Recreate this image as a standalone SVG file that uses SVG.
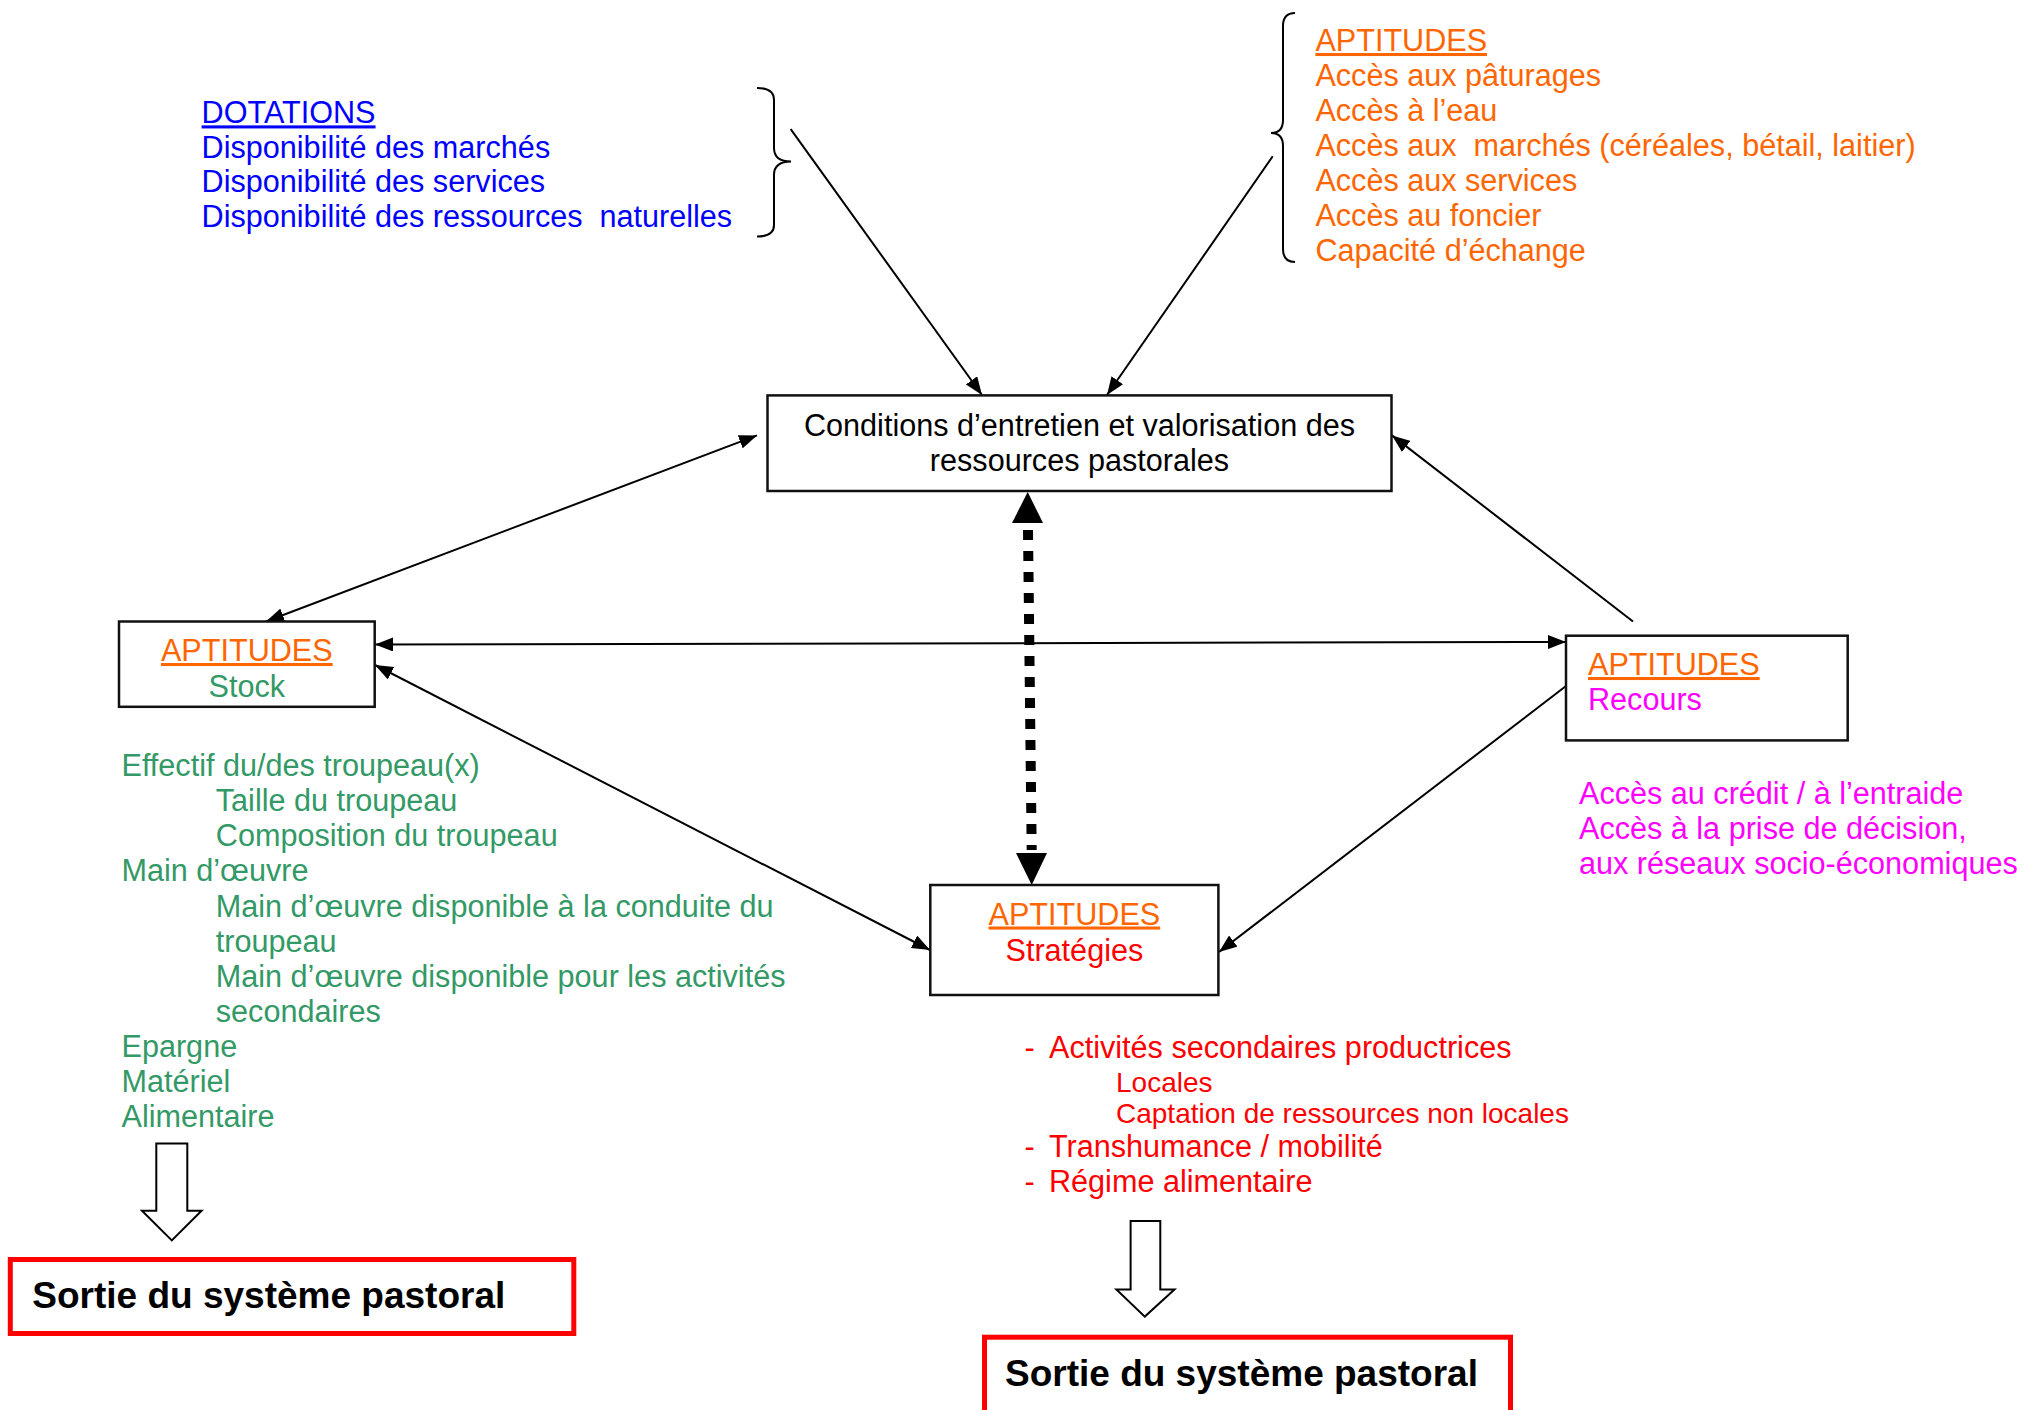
<svg xmlns="http://www.w3.org/2000/svg" width="2026" height="1410" viewBox="0 0 2026 1410">
<style>
text{font-family:"Liberation Sans",Arial,sans-serif;font-size:30.6px}
.u{text-decoration:underline}
.blue{fill:#0000FF}
.or{fill:#FF6600}
.gr{fill:#339966}
.mg{fill:#FF00FF}
.rd{fill:#FF0000}
.bk{fill:#000}
.sm{font-size:28px}
.bold{font-weight:bold;font-size:37px;fill:#000}
.box{fill:#fff;stroke:#111;stroke-width:2.5}
.sbox{fill:#fff;stroke:#FF0000;stroke-width:5}
.ln{stroke:#000;stroke-width:2;fill:none}
.brace{stroke:#000;stroke-width:2;fill:none}
.hollow{fill:#fff;stroke:#000;stroke-width:2;stroke-linejoin:miter}
</style>
<defs>
<marker id="ah" markerUnits="userSpaceOnUse" markerWidth="18" markerHeight="14" refX="18" refY="7" orient="auto-start-reverse" viewBox="0 0 18 14">
<path d="M0,0 L18,7 L0,14 z" fill="#000"/>
</marker>
</defs>
<rect width="2026" height="1410" fill="#fff"/>

<g id="connectors">
<line class="ln" x1="790.7" y1="129.2" x2="982" y2="395" marker-end="url(#ah)"/>
<line class="ln" x1="1272.7" y1="156.3" x2="1107" y2="395" marker-end="url(#ah)"/>
<line class="ln" x1="266" y1="621.5" x2="757" y2="435.4" marker-start="url(#ah)" marker-end="url(#ah)"/>
<line class="ln" x1="375" y1="644.5" x2="1566" y2="642" marker-start="url(#ah)" marker-end="url(#ah)"/>
<line class="ln" x1="375" y1="665" x2="930" y2="950" marker-start="url(#ah)" marker-end="url(#ah)"/>
<line class="ln" x1="1633" y1="621.5" x2="1392" y2="435.4" marker-end="url(#ah)"/>
<line class="ln" x1="1566" y1="686" x2="1219" y2="952" marker-end="url(#ah)"/>
<line x1="1028" y1="530" x2="1031.7" y2="850" stroke="#000" stroke-width="10" stroke-dasharray="10 11"/>
<polygon points="1027.7,492 1043,523 1012,523" fill="#000"/>
<polygon points="1031.7,885 1047,853 1016,853" fill="#000"/>
</g>

<g id="dotations">
<text class="blue u" x="201.6" y="123.4">DOTATIONS</text>
<text class="blue" x="201.6" y="157.5">Disponibilité des marchés</text>
<text class="blue" x="201.6" y="192">Disponibilité des services</text>
<text class="blue" x="201.6" y="226.8" xml:space="preserve">Disponibilité des ressources  naturelles</text>
<path class="brace" d="M757,88 Q774,88 774,100 L774,148 Q774,161.5 791,161.5 Q774,161.5 774,175 L774,225 Q774,236.5 757,236.5"/>
</g>

<g id="aptitudes-acces">
<path class="brace" d="M1295,13 Q1283,13 1283,26 L1283,120 Q1283,133 1271,133 Q1283,133 1283,146 L1283,249 Q1283,262 1295,262"/>
<text class="or u" x="1315.4" y="51">APTITUDES</text>
<text class="or" x="1315.4" y="86">Accès aux pâturages</text>
<text class="or" x="1315.4" y="121">Accès à l’eau</text>
<text class="or" x="1315.4" y="156" xml:space="preserve">Accès aux  marchés (céréales, bétail, laitier)</text>
<text class="or" x="1315.4" y="191">Accès aux services</text>
<text class="or" x="1315.4" y="226">Accès au foncier</text>
<text class="or" x="1315.4" y="261">Capacité d’échange</text>
</g>

<g id="node-conditions">
<rect class="box" x="767.5" y="395.4" width="624" height="95.6"/>
<text class="bk" x="1079.5" y="436" text-anchor="middle">Conditions d’entretien et valorisation des</text>
<text class="bk" x="1079.5" y="471" text-anchor="middle">ressources pastorales</text>
</g>

<g id="node-stock">
<rect class="box" x="119" y="621.5" width="255.7" height="85.3"/>
<text class="or u" x="246.8" y="661" text-anchor="middle">APTITUDES</text>
<text class="gr" x="246.8" y="697" text-anchor="middle">Stock</text>
</g>

<g id="node-recours">
<rect class="box" x="1566" y="635.7" width="281.7" height="104.7"/>
<text class="or u" x="1588" y="675">APTITUDES</text>
<text class="mg" x="1588" y="710">Recours</text>
</g>

<g id="node-strategies">
<rect class="box" x="930.3" y="885" width="288.1" height="110"/>
<text class="or u" x="1074.4" y="924.5" text-anchor="middle">APTITUDES</text>
<text class="rd" x="1074.4" y="960.5" text-anchor="middle">Stratégies</text>
</g>

<g id="recours-details">
<text class="mg" x="1579" y="804">Accès au crédit / à l’entraide</text>
<text class="mg" x="1579" y="839">Accès à la prise de décision,</text>
<text class="mg" x="1579" y="874">aux réseaux socio-économiques</text>
</g>

<g id="stock-details">
<text class="gr" x="121.5" y="776">Effectif du/des troupeau(x)</text>
<text class="gr" x="215.8" y="811">Taille du troupeau</text>
<text class="gr" x="215.8" y="846">Composition du troupeau</text>
<text class="gr" x="121.5" y="881">Main d’œuvre</text>
<text class="gr" x="215.8" y="916.5">Main d’œuvre disponible à la conduite du</text>
<text class="gr" x="215.8" y="951.5">troupeau</text>
<text class="gr" x="215.8" y="986.5">Main d’œuvre disponible pour les activités</text>
<text class="gr" x="215.8" y="1021.5">secondaires</text>
<text class="gr" x="121.5" y="1057">Epargne</text>
<text class="gr" x="121.5" y="1092">Matériel</text>
<text class="gr" x="121.5" y="1127">Alimentaire</text>
</g>

<g id="strategies-details">
<text class="rd" x="1024.6" y="1057.5">-</text>
<text class="rd" x="1049" y="1057.5">Activités secondaires productrices</text>
<text class="rd sm" x="1116" y="1091.5">Locales</text>
<text class="rd sm" x="1116" y="1122.5">Captation de ressources non locales</text>
<text class="rd" x="1024.6" y="1157">-</text>
<text class="rd" x="1049" y="1157">Transhumance / mobilité</text>
<text class="rd" x="1024.6" y="1192">-</text>
<text class="rd" x="1049" y="1192">Régime alimentaire</text>
</g>

<g id="exit-arrow-left">
<polygon class="hollow" points="156.3,1143.5 187.3,1143.5 187.3,1210.7 201.6,1210.7 171.8,1240.4 142,1210.7 156.3,1210.7"/>
</g>
<g id="exit-arrow-right">
<polygon class="hollow" points="1130.6,1221 1160.3,1221 1160.3,1289.5 1174.5,1289.5 1144.8,1316.6 1116.4,1289.5 1130.6,1289.5"/>
</g>

<g id="node-sortie-left">
<rect class="sbox" x="10.3" y="1259.5" width="563.5" height="74"/>
<text class="bold" x="32.3" y="1308">Sortie du système pastoral</text>
</g>

<g id="node-sortie-right">
<rect class="sbox" x="984.5" y="1337.2" width="526" height="110"/>
<text class="bold" x="1005" y="1385.5">Sortie du système pastoral</text>
</g>
</svg>
